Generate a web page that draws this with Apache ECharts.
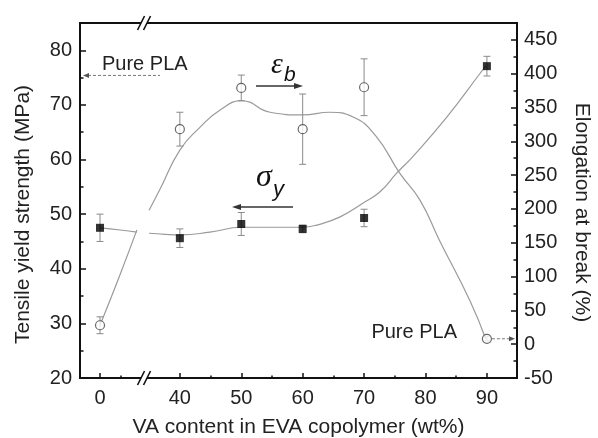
<!DOCTYPE html>
<html><head><meta charset="utf-8">
<script src="https://cdn.jsdelivr.net/npm/echarts@6/dist/echarts.min.js"></script>
<style>html,body{margin:0;padding:0;background:#fff}#c{width:598px;height:438px}</style>
</head><body><div id="c"></div>
<script>
// ---- data ----
const vaContent = [0, 40, 50, 60, 70, 90];
const yieldStrength = [47.5, 45.6, 48.2, 47.3, 49.3, 77.1];
const yieldErr = [2.5, 1.7, 2.1, 0.7, 1.6, 1.8];
const elongation = [28, 318, 379, 318, 380, 8];
const elongErr = [12.5, 25, 19, 52, 42, 3];
// fitted guide curves (left of axis break / right of axis break)
const yieldCurveA = [[0, 47.5], [3.3, 47.1], [6.1, 46.7]];
const yieldCurveB = [[34.8, 46.5], [37.6, 46.3], [40, 46.2], [44.9, 46.7], [50.1, 47.6], [54.7, 47.6], [59.9, 47.6], [62.3, 48.0], [66.1, 49.5], [69.8, 52.0], [72.6, 54.1], [75.3, 57.5], [77.9, 60.5], [83.5, 67.8], [88.9, 75.8], [89.8, 77.1]];
const elongCurveA = [[0, 28], [3.1, 99], [6.1, 169]];
const elongCurveB = [[34.8, 198], [36.7, 228], [40, 287], [43.3, 321], [46.5, 346], [50.1, 360], [54.7, 343], [60.0, 339], [64.4, 343], [68.2, 336], [71.9, 308], [75.8, 253], [79.1, 213], [82.3, 153], [87.2, 65], [89.8, 8]];
const xTickValues = [0, 40, 50, 60, 70, 80, 90];
const xMinorValues = [3.3, 45, 55, 65, 75, 85];
const leftTicks = [20, 30, 40, 50, 60, 70, 80];
const leftMinor = [25, 35, 45, 55, 65, 75];
const rightTicks = [-50, 0, 50, 100, 150, 200, 250, 300, 350, 400, 450];
const rightMinor = [-25, 25, 75, 125, 175, 225, 275, 325, 375, 425];
const pureYield = 75.4;
const breakStart = 6, breakEnd = 35;

const FONT = 'Liberation Sans';
const TXT = '#222';
const chart = echarts.init(document.getElementById('c'), null, {renderer: 'canvas'});

function xAxisBase(extra) {
  return Object.assign({
    type: 'value', min: -3.26, max: 94.9,
    breaks: [{start: breakStart, end: breakEnd, gap: 2}],
    breakArea: {show: false, expandOnClick: false},
    splitLine: {show: false}
  }, extra);
}
function yAxisBase(extra) {
  return Object.assign({type: 'value', splitLine: {show: false}}, extra);
}
function errData(vals, errs) {
  return vaContent.map((x, i) => [x, vals[i] - errs[i], vals[i] + errs[i]]);
}
function errRender(params, api) {
  const x = api.value(0);
  const lo = api.coord([x, api.value(1)]);
  const hi = api.coord([x, api.value(2)]);
  const w = 3.5, st = {stroke: '#8a8a8a', lineWidth: 1};
  return {type: 'group', children: [
    {type: 'line', shape: {x1: lo[0], y1: lo[1], x2: hi[0], y2: hi[1]}, style: st},
    {type: 'line', shape: {x1: lo[0] - w, y1: lo[1], x2: lo[0] + w, y2: lo[1]}, style: st},
    {type: 'line', shape: {x1: hi[0] - w, y1: hi[1], x2: hi[0] + w, y2: hi[1]}, style: st}
  ]};
}
const curveStyle = {color: '#9a9a9a', width: 1.2};
const axLine = {show: true, onZero: false, lineStyle: {color: '#111', width: 2}};
const noLine = {show: false, onZero: false};

chart.setOption({
  animation: false,
  backgroundColor: '#fff',
  grid: {left: 80, right: 81, top: 23, bottom: 60, containLabel: false, outerBoundsMode: 'none',
         show: true, borderColor: '#111', borderWidth: 2},
  xAxis: [
    xAxisBase({
      position: 'bottom',
      name: 'VA content in EVA copolymer (wt%)', nameLocation: 'middle', nameGap: 39,
      nameTextStyle: {fontFamily: FONT, fontSize: 21, color: TXT},
      axisLine: axLine,
      axisTick: {show: true, inside: true, length: 5, customValues: xTickValues, lineStyle: {color: '#111', width: 1.5}},
      axisLabel: {customValues: xTickValues, fontFamily: FONT, fontSize: 20, color: TXT, margin: 10}
    }),
    xAxisBase({
      position: 'bottom',
      axisLine: noLine,
      axisTick: {show: true, inside: true, length: 2.5, customValues: xMinorValues, lineStyle: {color: '#111', width: 1.5}},
      axisLabel: {show: false}
    })
  ],
  yAxis: [
    yAxisBase({
      position: 'left', min: 20, max: 85,
      name: 'Tensile yield strength (MPa)', nameLocation: 'middle', nameGap: 46, nameRotate: 90,
      nameTextStyle: {fontFamily: FONT, fontSize: 21, color: TXT, padding: [0, 28, 0, 0]},
      axisLine: axLine,
      axisTick: {show: true, inside: true, length: 6, customValues: leftTicks, lineStyle: {color: '#111', width: 1.5}},
      axisLabel: {customValues: leftTicks, fontFamily: FONT, fontSize: 20, color: TXT, margin: 8}
    }),
    yAxisBase({
      position: 'right', min: -50, max: 475,
      name: 'Elongation at break (%)', nameLocation: 'middle', nameGap: 54, nameRotate: -90,
      nameTextStyle: {fontFamily: FONT, fontSize: 21, color: TXT, padding: [0, 0, 0, 24]},
      axisLine: axLine,
      axisTick: {show: true, inside: true, length: 6, customValues: rightTicks, lineStyle: {color: '#111', width: 1.5}},
      axisLabel: {customValues: rightTicks, fontFamily: FONT, fontSize: 20, color: TXT, margin: 7}
    }),
    yAxisBase({
      position: 'left', min: 20, max: 85,
      axisLine: noLine, axisLabel: {show: false},
      axisTick: {show: true, inside: true, length: 3.5, customValues: leftMinor, lineStyle: {color: '#111', width: 1.5}}
    }),
    yAxisBase({
      position: 'right', min: -50, max: 475,
      axisLine: noLine, axisLabel: {show: false},
      axisTick: {show: true, inside: true, length: 3.5, customValues: rightMinor, lineStyle: {color: '#111', width: 1.5}}
    })
  ],
  series: [
    {type: 'line', xAxisIndex: 0, yAxisIndex: 0, data: yieldCurveA, smooth: true, showSymbol: false, lineStyle: curveStyle, z: 2},
    {type: 'line', xAxisIndex: 0, yAxisIndex: 0, data: yieldCurveB, smooth: true, showSymbol: false, lineStyle: curveStyle, z: 2},
    {type: 'line', xAxisIndex: 0, yAxisIndex: 1, data: elongCurveA, smooth: true, showSymbol: false, lineStyle: curveStyle, z: 2},
    {type: 'line', xAxisIndex: 0, yAxisIndex: 1, data: elongCurveB, smooth: true, showSymbol: false, lineStyle: curveStyle, z: 2},
    {type: 'custom', xAxisIndex: 0, yAxisIndex: 0, renderItem: errRender, data: errData(yieldStrength, yieldErr), encode: {x: 0, y: [1, 2]}, z: 3},
    {type: 'custom', xAxisIndex: 0, yAxisIndex: 1, renderItem: errRender, data: errData(elongation, elongErr), encode: {x: 0, y: [1, 2]}, z: 3},
    {type: 'scatter', xAxisIndex: 0, yAxisIndex: 0, data: vaContent.map((x, i) => [x, yieldStrength[i]]),
     symbol: 'rect', symbolSize: 8, itemStyle: {color: '#000'}, z: 5},
    {type: 'scatter', xAxisIndex: 0, yAxisIndex: 1, data: vaContent.map((x, i) => [x, elongation[i]]),
     symbol: 'circle', symbolSize: 9, itemStyle: {color: '#fff', borderColor: '#444', borderWidth: 1.2}, z: 5}
  ]
});

// ---- annotations positioned through the axes ----
const bx = (chart.convertToPixel({xAxisIndex: 0}, breakStart) + chart.convertToPixel({xAxisIndex: 0}, breakEnd)) / 2 + 1;
const yTop = 23, yBot = 378;
function breakMark(cx, y) {
  const h = 7, s = 3.5, off = 3;
  return [
    {type: 'polygon', shape: {points: [[cx - off - s * 0.4, y + 3], [cx - off + s * 0.4, y - 3], [cx + off + s * 0.4, y - 3], [cx + off - s * 0.4, y + 3]]}, style: {fill: '#fff'}, z: 100},
    {type: 'line', shape: {x1: cx - off - s, y1: y + h, x2: cx - off + s, y2: y - h}, style: {stroke: '#111', lineWidth: 1.6}, z: 101},
    {type: 'line', shape: {x1: cx + off - s, y1: y + h, x2: cx + off + s, y2: y - h}, style: {stroke: '#111', lineWidth: 1.6}, z: 101}
  ];
}
const yPureL = chart.convertToPixel({yAxisIndex: 0}, pureYield);
const pPureR = chart.convertToPixel({xAxisIndex: 0, yAxisIndex: 1}, [vaContent[5], elongation[5]]);
const xLeft = 80, xRight = 517;
const graphics = [].concat(
  breakMark(bx, yTop), breakMark(bx, yBot),
  [
    // Pure PLA (left)
    {type: 'text', x: 102, y: yPureL - 11, style: {text: 'Pure PLA', font: '20px "Liberation Sans"', fill: TXT, textAlign: 'left', textVerticalAlign: 'middle'}, z: 50},
    {type: 'line', shape: {x1: xLeft + 8, y1: yPureL, x2: 160, y2: yPureL}, style: {stroke: '#777', lineWidth: 1, lineDash: [3, 2]}, z: 50},
    {type: 'polygon', shape: {points: [[xLeft + 3, yPureL], [xLeft + 9, yPureL - 2.5], [xLeft + 9, yPureL + 2.5]]}, style: {fill: '#555'}, z: 50},
    // Pure PLA (right)
    {type: 'text', x: 457, y: pPureR[1] - 6, style: {text: 'Pure PLA', font: '20px "Liberation Sans"', fill: TXT, textAlign: 'right', textVerticalAlign: 'middle'}, z: 50},
    {type: 'line', shape: {x1: pPureR[0] + 5, y1: pPureR[1], x2: xRight - 8, y2: pPureR[1]}, style: {stroke: '#777', lineWidth: 1, lineDash: [3, 2]}, z: 50},
    {type: 'polygon', shape: {points: [[xRight - 2, pPureR[1]], [xRight - 8, pPureR[1] - 2.5], [xRight - 8, pPureR[1] + 2.5]]}, style: {fill: '#555'}, z: 50},
    // epsilon_b with arrow to the right
    {type: 'text', x: 271, y: 65, style: {text: 'ε', font: 'italic 30px "Liberation Serif"', fill: '#111', textAlign: 'left', textVerticalAlign: 'middle'}, z: 50},
    {type: 'text', x: 284, y: 75, style: {text: 'b', font: 'italic 21px "Liberation Sans"', fill: '#111', textAlign: 'left', textVerticalAlign: 'middle'}, z: 50},
    {type: 'line', shape: {x1: 256, y1: 86, x2: 296, y2: 86}, style: {stroke: '#333', lineWidth: 1.3}, z: 50},
    {type: 'polygon', shape: {points: [[303, 86], [294, 83], [294, 89]]}, style: {fill: '#333'}, z: 50},
    // sigma_y with arrow to the left
    {type: 'text', x: 256, y: 178, style: {text: 'σ', font: 'italic 32px "Liberation Serif"', fill: '#111', textAlign: 'left', textVerticalAlign: 'middle'}, z: 50},
    {type: 'text', x: 273, y: 190, style: {text: 'y', font: 'italic 22px "Liberation Sans"', fill: '#111', textAlign: 'left', textVerticalAlign: 'middle'}, z: 50},
    {type: 'line', shape: {x1: 240, y1: 207, x2: 293, y2: 207}, style: {stroke: '#333', lineWidth: 1.3}, z: 50},
    {type: 'polygon', shape: {points: [[232, 207], [241, 204], [241, 210]]}, style: {fill: '#333'}, z: 50}
  ]
);
chart.setOption({graphic: graphics});
</script></body></html>
